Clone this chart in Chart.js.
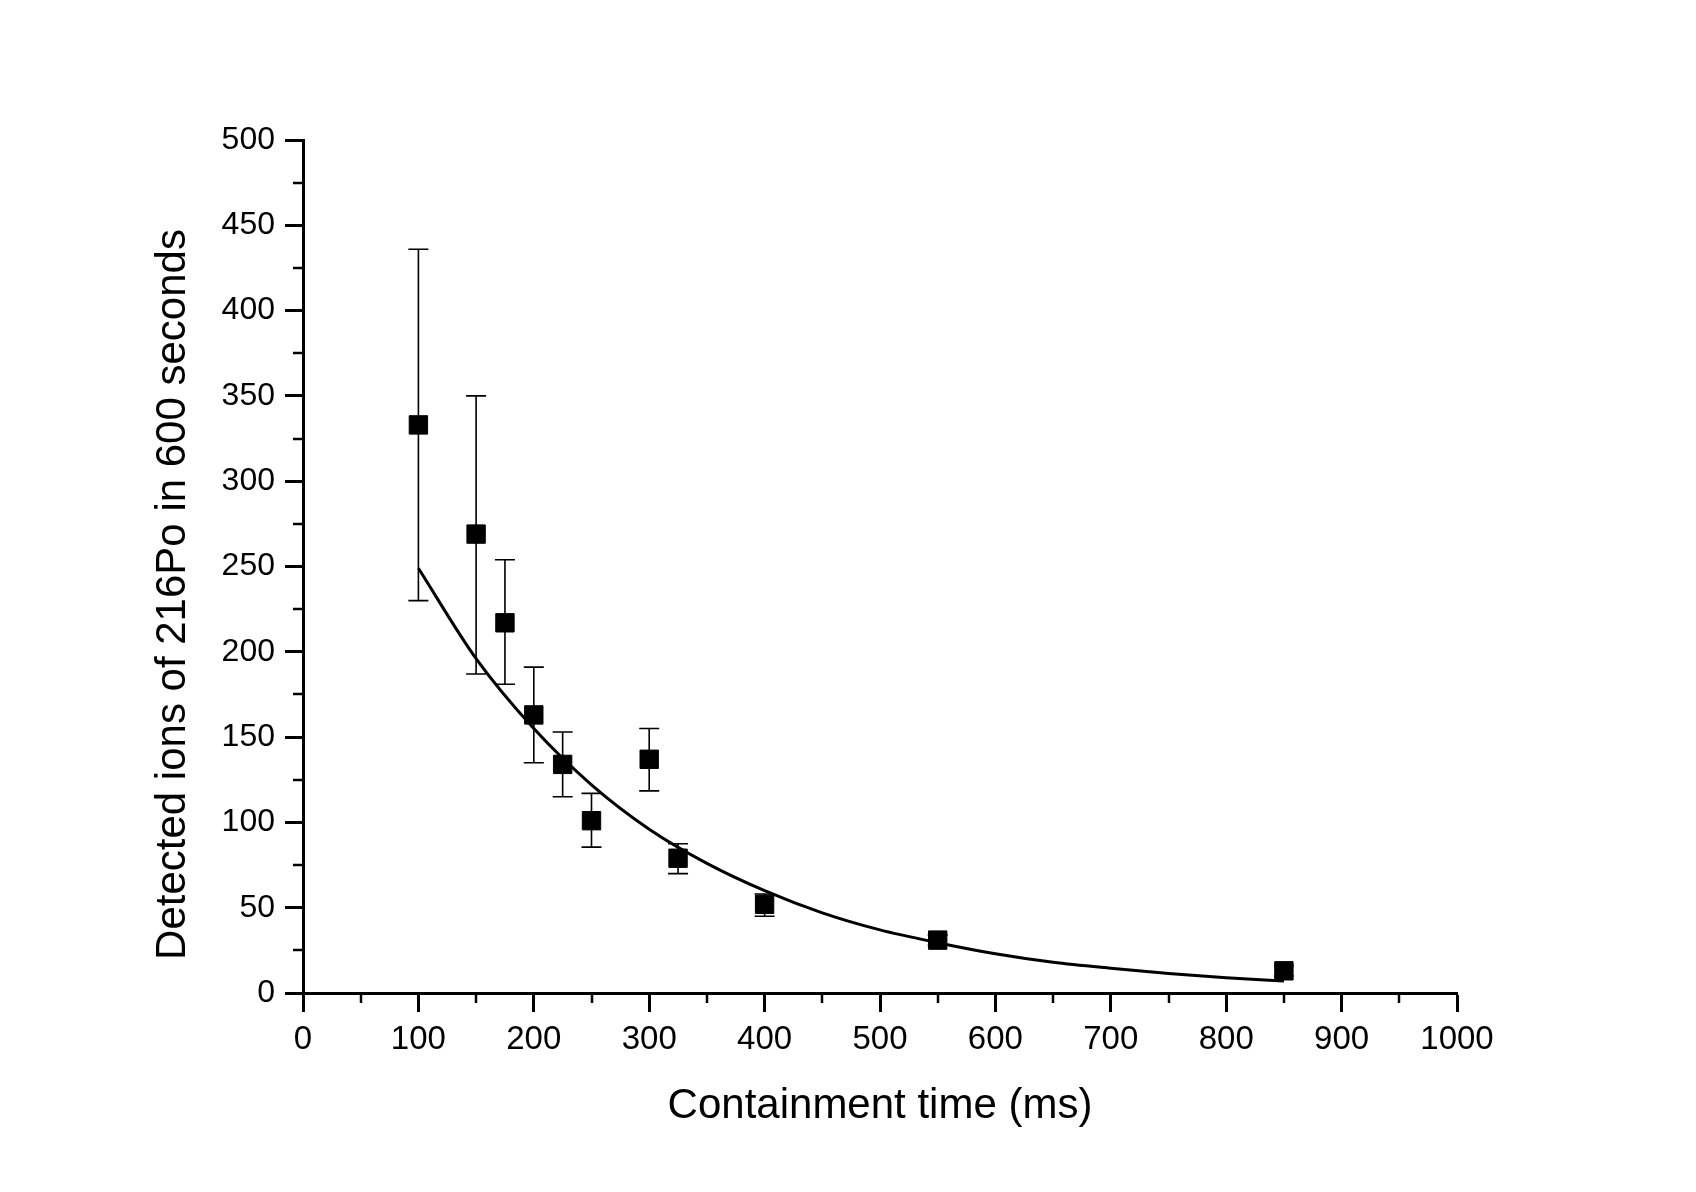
<!DOCTYPE html>
<html>
<head>
<meta charset="utf-8">
<script src="https://cdn.jsdelivr.net/npm/chart.js@4"></script>
<style>
  html, body { margin: 0; padding: 0; background: #fff; }
  #myCan { display: block; }
</style>
</head>
<body>
<canvas id="myCan" width="1696" height="1192"></canvas>
<script>
// measured points (containment time in ms, detected ions)
var timeMs   = [100, 150, 175, 200, 225, 250, 300, 325, 400, 550, 850];
var ions     = [333, 269, 217, 163, 134, 101, 137, 79, 52, 31, 13];
var errHigh  = [436, 350, 254, 191, 153, 117, 155, 87.5, 58, 34, 16];
var errLow   = [230, 187, 181, 135, 115, 85.5, 118.5, 70, 45, 28, 10];

// fitted decay curve
var fitTime  = [100, 150, 200, 250, 300, 350, 400, 450, 500, 550, 600, 650, 700, 750, 800, 850];
var fitIons  = [249, 196, 155, 122, 96, 76, 60, 47, 37, 29.5, 23, 18, 14.5, 11.5, 9, 7];

var xMinor = [50, 150, 250, 350, 450, 550, 650, 750, 850, 950];
var yMinor = [25, 75, 125, 175, 225, 275, 325, 375, 425, 475];

var vxLabel = 'Containment time (ms)';
var vyLabel = 'Detected ions of 216Po in 600 seconds';

var fontFam = '"Liberation Sans", Arial, sans-serif';

function toXY(xs, ys) {
  return xs.map(function (v, i) { return {x: v, y: ys[i]}; });
}

var errorBars = {
  id: 'errorBars',
  beforeDatasetsDraw: function (chart) {
    var ctx = chart.ctx, x = chart.scales.x, y = chart.scales.y;
    ctx.save();
    ctx.strokeStyle = '#000';
    ctx.lineWidth = 1.6;
    timeMs.forEach(function (t, i) {
      var px = x.getPixelForValue(t);
      var top = y.getPixelForValue(errHigh[i]);
      var bot = y.getPixelForValue(errLow[i]);
      ctx.beginPath();
      ctx.moveTo(px, top); ctx.lineTo(px, bot);
      ctx.moveTo(px - 10, top); ctx.lineTo(px + 10, top);
      ctx.moveTo(px - 10, bot); ctx.lineTo(px + 10, bot);
      ctx.stroke();
    });
    ctx.restore();
  }
};

var minorTicks = {
  id: 'minorTicks',
  afterDraw: function (chart) {
    var ctx = chart.ctx, x = chart.scales.x, y = chart.scales.y;
    var area = chart.chartArea;
    ctx.save();
    ctx.strokeStyle = '#000';
    ctx.lineWidth = 2.5;
    xMinor.forEach(function (v) {
      var px = Math.round(x.getPixelForValue(v));
      ctx.beginPath(); ctx.moveTo(px, area.bottom); ctx.lineTo(px, area.bottom + 10); ctx.stroke();
    });
    yMinor.forEach(function (v) {
      var py = Math.round(y.getPixelForValue(v));
      ctx.beginPath(); ctx.moveTo(area.left, py); ctx.lineTo(area.left - 10, py); ctx.stroke();
    });
    ctx.restore();
  }
};

// y title sits a little below the axis middle in the original
var yTitle = {
  id: 'yTitle',
  afterDraw: function (chart) {
    var ctx = chart.ctx, area = chart.chartArea;
    ctx.save();
    ctx.translate(173, (area.top + area.bottom) / 2 + 28);
    ctx.rotate(-Math.PI / 2);
    ctx.fillStyle = '#000';
    ctx.font = '42px ' + fontFam;
    ctx.textAlign = 'center';
    ctx.textBaseline = 'middle';
    ctx.fillText(vyLabel, 0, 0);
    ctx.restore();
  }
};

var iniChartConfig = {
  type: 'scatter',
  data: {
    datasets: [
      {
        label: 'fit',
        data: toXY(fitTime, fitIons),
        showLine: true,
        borderColor: '#000',
        borderWidth: 3,
        pointRadius: 0,
        cubicInterpolationMode: 'monotone',
        order: 2
      },
      {
        label: 'data',
        data: toXY(timeMs, ions),
        pointStyle: 'rect',
        pointRadius: 13,
        backgroundColor: '#000',
        borderColor: '#000',
        borderWidth: 1,
        order: 1
      }
    ]
  },
  options: {
    responsive: false,
    animation: false,
    devicePixelRatio: 1,
    layout: { padding: { left: 0, top: 140, right: 239, bottom: 0 } },
    plugins: {
      legend: { display: false },
      tooltip: { enabled: false }
    },
    scales: {
      x: {
        type: 'linear',
        min: 0,
        max: 1000,
        afterFit: function (s) { s.height = 199; },
        border: { display: true, color: '#000', width: 3 },
        grid: { display: true, drawOnChartArea: false, drawTicks: true, tickLength: 19, tickWidth: 3, tickColor: '#000' },
        ticks: {
          stepSize: 100,
          color: '#000',
          padding: 8,
          maxRotation: 0,
          font: { family: fontFam, size: 33 },
          callback: function (v) { return String(v); }
        },
        title: {
          display: true,
          text: vxLabel,
          color: '#000',
          padding: { top: 0, bottom: 60 },
          font: { family: fontFam, size: 42 }
        }
      },
      y: {
        type: 'linear',
        min: 0,
        max: 500,
        afterFit: function (s) { s.width = 303; },
        border: { display: true, color: '#000', width: 3 },
        grid: { display: true, drawOnChartArea: false, drawTicks: true, tickLength: 18, tickWidth: 3, tickColor: '#000' },
        ticks: {
          stepSize: 50,
          color: '#000',
          padding: 10,
          font: { family: fontFam, size: 32 },
          callback: function (v) { return String(v); }
        },
        title: { display: false }
      }
    }
  },
  plugins: [errorBars, minorTicks, yTitle]
};

var ctxx = document.getElementById('myCan').getContext('2d');
var xChart = new Chart(ctxx, iniChartConfig);
</script>
</body>
</html>
